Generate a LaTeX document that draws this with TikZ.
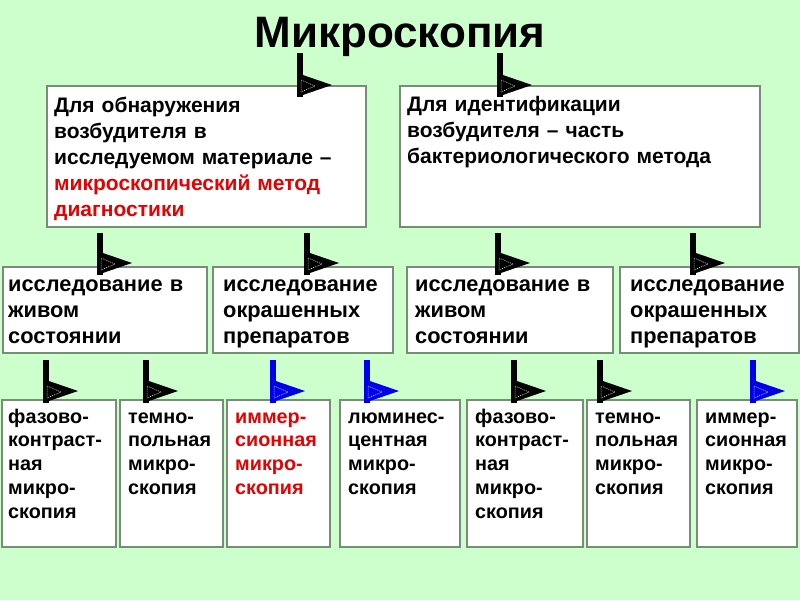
\documentclass[tikz,border=0pt]{standalone}
\usepackage{fontspec}
\setmainfont{Liberation Sans}
\usetikzlibrary{calc}
\definecolor{bg}{RGB}{204,255,204}
\definecolor{bord}{RGB}{120,140,120}
\definecolor{myred}{RGB}{230,0,0}
\definecolor{myblue}{RGB}{0,0,235}
\tikzset{
  boxst/.style={draw=bord, line width=1.3pt, fill=white, inner sep=0pt, outer sep=0pt, anchor=north west},
  txtbig/.style={anchor=base west, inner sep=0pt, align=left, text width=340pt, font=\bfseries\fontsize{21}{26}\selectfont},
  txtmid/.style={anchor=base west, inner sep=0pt, align=left, text width=220pt, font=\bfseries\fontsize{21.8}{26}\selectfont},
  txtsmall/.style={anchor=base west, inner sep=0pt, align=left, text width=150pt, font=\bfseries\fontsize{19.8}{23.75}\selectfont},
  flagbar/.style={line width=6pt, line cap=butt},
  flaginner/.style={draw=white, line width=0.5pt, dash pattern=on 1pt off 1pt}
}
% #1 flag coordinate, #2 target node, #3 overlap below target top, #4 colour
\newcommand\flagto[4]{%
  \draw[flagbar,#4] (#1) -- ($(#1 |- #2.north)+(0,#3)$) coordinate (#1-end);
  \fill[#4] ($(#1-end)+(-3,-24)$) -- ($(#1-end)+(32,-12)$) -- ($(#1-end)+(-3,0)$) -- cycle;
  \draw[flaginner] ($(#1-end)+(1,-17)$) -- ($(#1-end)+(15,-11)$) -- ($(#1-end)+(1,-5)$) -- cycle;
}
\begin{document}
\begin{tikzpicture}[x=1pt, y=-1pt]
\useasboundingbox (0,0) rectangle (800,600);
\fill[bg] (0,0) rectangle (800,600);

% title
\node[anchor=base, inner sep=0pt, font=\bfseries\fontsize{44}{50}\selectfont] (title) at (400,47) {Микроскопия};

% row 1 boxes
\node[boxst, minimum width=319pt, minimum height=141pt] (A) at (47,86) {};
\node[boxst, minimum width=360pt, minimum height=141pt] (B) at (400,86) {};

% row 2 boxes
\node[boxst, minimum width=204pt, minimum height=86pt] (C1) at (3,267) {};
\node[boxst, minimum width=180pt, minimum height=86pt] (C2) at (213,267) {};
\node[boxst, minimum width=206pt, minimum height=86pt] (C3) at (407,267) {};
\node[boxst, minimum width=179pt, minimum height=86pt] (C4) at (620,267) {};

% row 3 boxes
\node[boxst, minimum width=114pt, minimum height=147pt] (D1) at (2,400) {};
\node[boxst, minimum width=103pt, minimum height=147pt] (D2) at (120,400) {};
\node[boxst, minimum width=103pt, minimum height=147pt] (D3) at (227,400) {};
\node[boxst, minimum width=120pt, minimum height=147pt] (D4) at (340,400) {};
\node[boxst, minimum width=116pt, minimum height=147pt] (D5) at (467,400) {};
\node[boxst, minimum width=103pt, minimum height=147pt] (D6) at (587,400) {};
\node[boxst, minimum width=100pt, minimum height=147pt] (D7) at (697,400) {};

% flags
\coordinate (f1) at (300,53);
\coordinate (f2) at (500,53);
\flagto{f1}{A}{11}{black}
\flagto{f2}{B}{11}{black}
\coordinate (f3) at (100,233);
\coordinate (f4) at (307,233);
\coordinate (f5) at (498,233);
\coordinate (f6) at (693,233);
\flagto{f3}{C1}{8}{black}
\flagto{f4}{C2}{8}{black}
\flagto{f5}{C3}{8}{black}
\flagto{f6}{C4}{8}{black}
\coordinate (f7) at (46,360);
\coordinate (f8) at (146,360);
\coordinate (f9) at (273,360);
\coordinate (f10) at (367,360);
\coordinate (f11) at (514,360);
\coordinate (f12) at (600,360);
\coordinate (f13) at (753,360);
\flagto{f7}{D1}{3}{black}
\flagto{f8}{D2}{3}{black}
\flagto{f9}{D3}{3}{myblue}
\flagto{f10}{D4}{3}{myblue}
\flagto{f11}{D5}{3}{black}
\flagto{f12}{D6}{3}{black}
\flagto{f13}{D7}{3}{myblue}

% texts row 1
\node[txtbig] (At) at ($(A.north west)+(7,26)$) {Для обнаружения\\возбудителя в\\исследуемом материале –\\\textcolor{myred}{микроскопический метод}\\\textcolor{myred}{диагностики}};
\node[txtbig] (Bt) at ($(B.north west)+(7,25)$) {Для идентификации\\возбудителя – часть\\бактериологического метода};

% texts row 2
\node[txtmid] (C1t) at ($(C1.north west)+(5,24)$) {исследование в\\живом\\состоянии};
\node[txtmid] (C2t) at ($(C2.north west)+(10,24)$) {исследование\\окрашенных\\препаратов};
\node[txtmid] (C3t) at ($(C3.north west)+(8,24)$) {исследование в\\живом\\состоянии};
\node[txtmid] (C4t) at ($(C4.north west)+(10,24)$) {исследование\\окрашенных\\препаратов};

% texts row 3
\node[txtsmall] (D1t) at ($(D1.north west)+(6,23)$) {фазово-\\контраст-\\ная\\микро-\\скопия};
\node[txtsmall] (D2t) at ($(D2.north west)+(8,23)$) {темно-\\польная\\микро-\\скопия};
\node[txtsmall, text=myred] (D3t) at ($(D3.north west)+(8,23)$) {иммер-\\сионная\\микро-\\скопия};
\node[txtsmall] (D4t) at ($(D4.north west)+(8,23)$) {люминес-\\центная\\микро-\\скопия};
\node[txtsmall] (D5t) at ($(D5.north west)+(8,23)$) {фазово-\\контраст-\\ная\\микро-\\скопия};
\node[txtsmall] (D6t) at ($(D6.north west)+(8,23)$) {темно-\\польная\\микро-\\скопия};
\node[txtsmall] (D7t) at ($(D7.north west)+(8,23)$) {иммер-\\сионная\\микро-\\скопия};
\end{tikzpicture}
\end{document}
